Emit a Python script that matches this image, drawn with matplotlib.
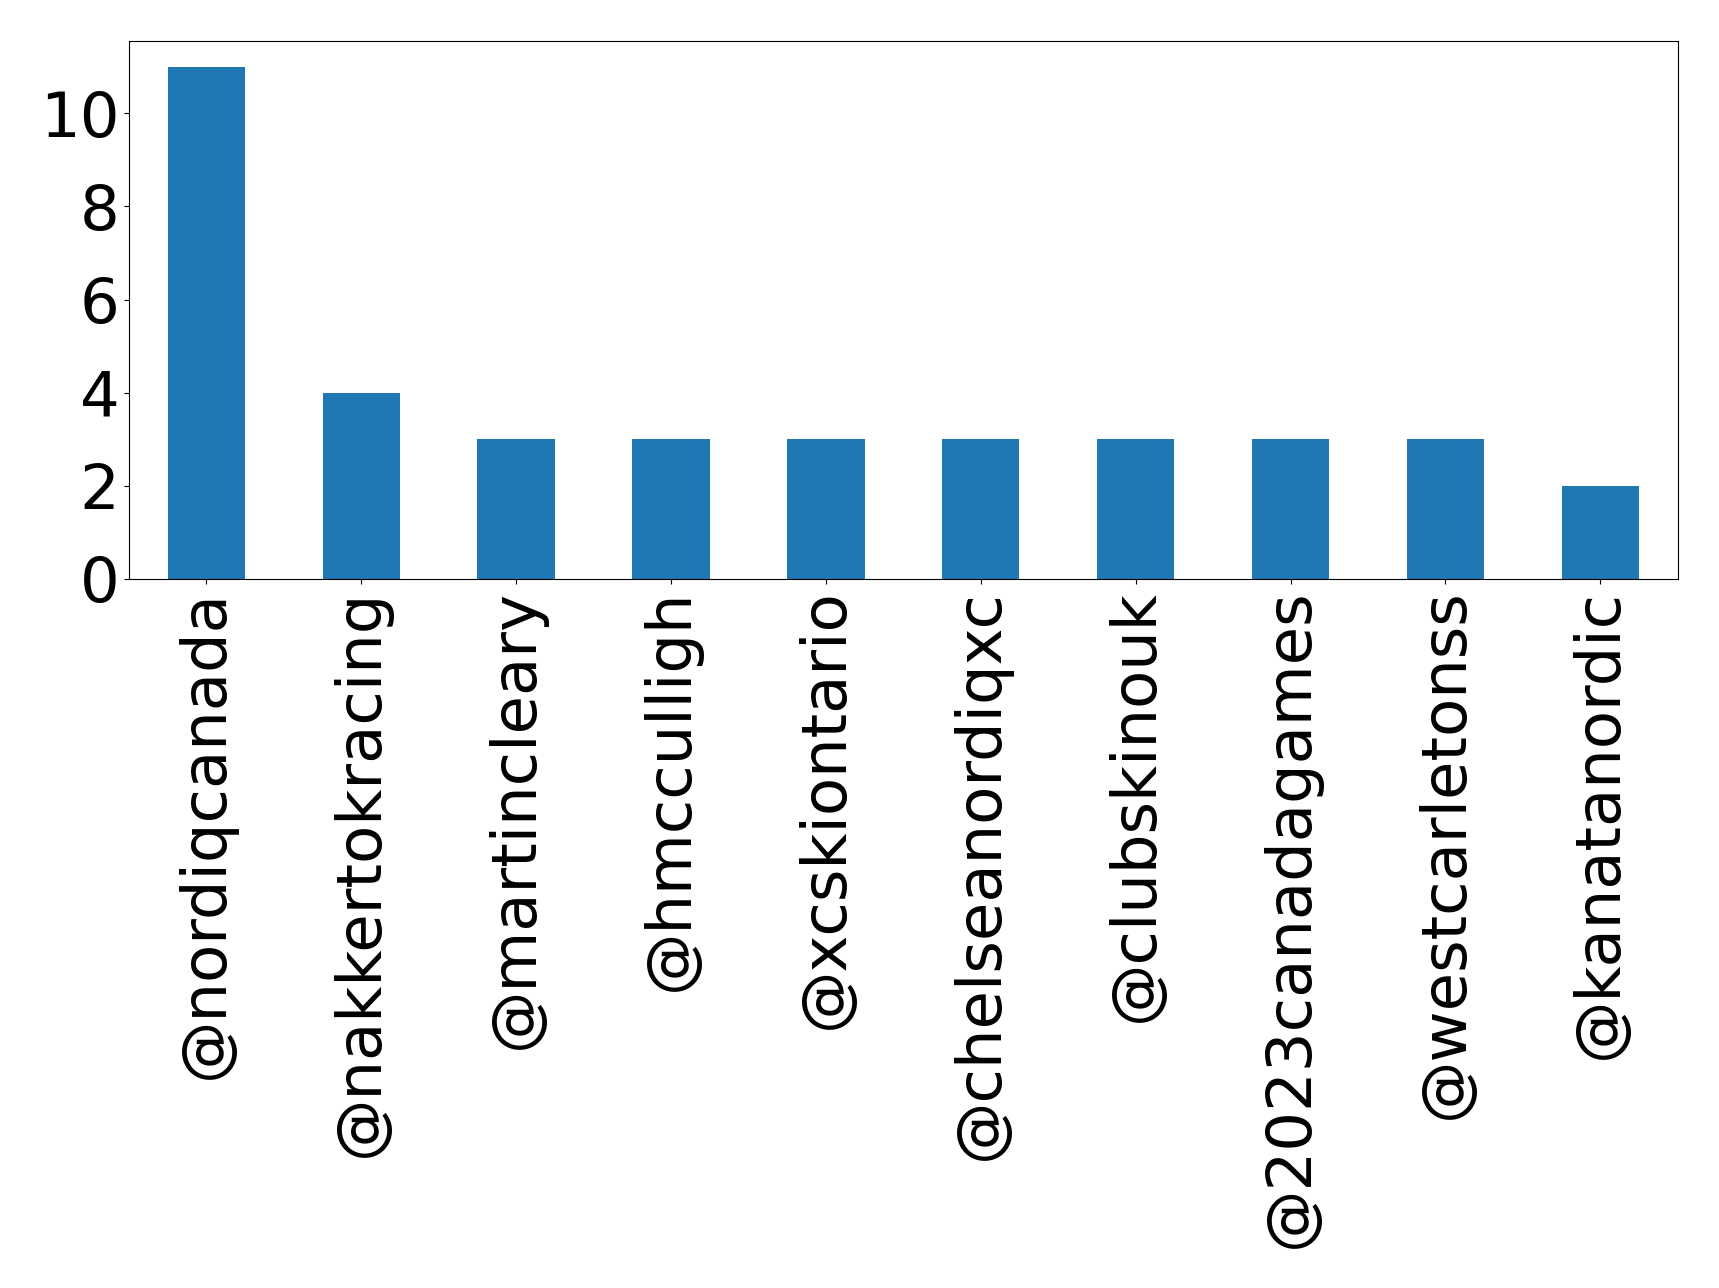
import matplotlib
matplotlib.use("Agg")
import matplotlib.pyplot as plt
import pandas as pd

accounts = ["@nordiqcanada", "@nakkertokracing", "@martincleary", "@hmcculligh",
            "@xcskiontario", "@chelseanordiqxc", "@clubskinouk", "@2023canadagames",
            "@westcarletonss", "@kanatanordic"]
mentions = [11, 4, 3, 3, 3, 3, 3, 3, 3, 2]

series = pd.Series(mentions, index=accounts)

fig = plt.figure(figsize=(17.19, 12.88), dpi=100)
ax = fig.add_axes([0.075, 0.5505, 0.901, 0.4175])
series.plot(kind="bar", ax=ax, fontsize=45, color="#1f77b4")
ax.set_yticks([0, 2, 4, 6, 8, 10])

fig.savefig("out.png", dpi=100)
